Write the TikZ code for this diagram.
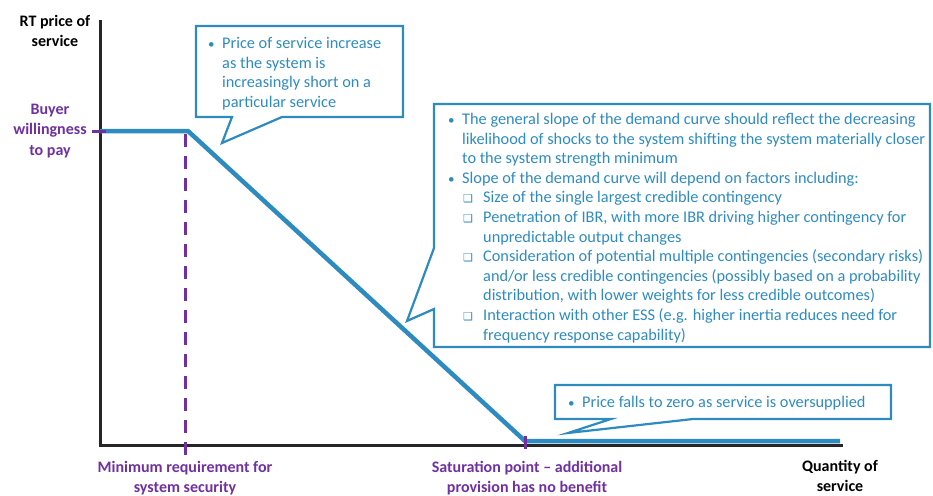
\documentclass[tikz,border=0pt]{standalone}
\usepackage{fontspec}
\setmainfont{Carlito}
\newfontfamily\djv{DejaVu Sans}
\definecolor{cblue}{RGB}{46,139,192}
\definecolor{cpurp}{RGB}{112,48,160}
\newcommand{\sqb}{\makebox[20pt][l]{\raisebox{0.3pt}{\djv\fontsize{11}{11}\selectfont ❑}}}
\newcommand{\bul}{\makebox[14pt][l]{\fontsize{13}{13}\selectfont •}}
\begin{document}
\begin{tikzpicture}[x=1pt,y=-1pt,
  axis/.style={line width=3pt,black!85},
  curve/.style={line width=4.5pt,cblue},
  pmark/.style={line width=3pt,cpurp},
  callout/.style={line width=2.2pt,cblue,line join=miter},
  ctext/.style={cblue,font=\fontsize{16.3}{19.6}\selectfont,align=left,inner sep=0pt,anchor=north west},
  albl/.style={font=\bfseries\fontsize{16}{20.5}\selectfont,align=center,inner sep=0pt},
]
\useasboundingbox (0,0) rectangle (933,495);

% axes
\coordinate (ytop) at (100,20);
\coordinate (O) at (100,445);
\coordinate (xend) at (843,445);
\draw[axis] (ytop) -- (O) -- (xend);

% demand curve
\coordinate (p0) at (100,131);
\coordinate (p1) at (188,131);
\coordinate (p2) at (525,441);
\coordinate (p3) at (840,441);
\draw[curve,line join=miter] (p0) -- (p1) -- (p2) -- (p3);

% purple marks
\coordinate (t0) at (92,131);
\coordinate (t1) at (106,131);
\draw[pmark] (t0) -- (t1);
\coordinate (d0) at (185,134);
\coordinate (d1) at (185,458);
\draw[pmark,dash pattern=on 13pt off 9pt] (d0) -- (d1);
\coordinate (s0) at (525,436);
\coordinate (s1) at (525,449);
\draw[pmark] (s0) -- (s1);

% callout 1
\draw[callout] (196,26) -- (403,26) -- (403,117) -- (282,117) -- (222,143) -- (232,117) -- (196,117) -- cycle;
\node[ctext] (c1) at (208,37) {\bul Price of service increase\\
\hspace*{14pt}as the system is\\
\hspace*{14pt}increasingly short on a\\
\hspace*{14pt}particular service};

% callout 2
\draw[callout] (434,104) -- (930,104) -- (930,347) -- (434,347) -- (434,309) -- (407,321) -- (434,248) -- cycle;
\node[ctext] (c2) at (448,113) {\bul The general slope of the demand curve should reflect the decreasing\\
\hspace*{14pt}likelihood of shocks to the system shifting the system materially closer\\
\hspace*{14pt}to the system strength minimum\\
\bul Slope of the demand curve will depend on factors including:\\
\hspace*{15pt}\sqb Size of the single largest credible contingency\\
\hspace*{15pt}\sqb Penetration of IBR, with more IBR driving higher contingency for\\
\hspace*{35pt}unpredictable output changes\\
\hspace*{15pt}\sqb Consideration of potential multiple contingencies (secondary risks)\\
\hspace*{35pt}and/or less credible contingencies (possibly based on a probability\\
\hspace*{35pt}distribution, with lower weights for less credible outcomes)\\
\hspace*{15pt}\sqb Interaction with other ESS (e.g. higher inertia reduces need for\\
\hspace*{35pt}frequency response capability)};

% callout 3
\draw[callout] (555,385) -- (891,385) -- (891,419) -- (693,419) -- (568,433) -- (611,419) -- (555,419) -- cycle;
\node[ctext] (c3) at (568,396) {\bul Price falls to zero as service is oversupplied};

% axis labels
\node[albl] (ylab) at (55,31) {RT price of\\service};
\node[albl,text=cpurp] (bwp) at (50,131) {Buyer\\willingness\\to pay};
\node[albl,text=cpurp] (minreq) at (185,478) {Minimum requirement for\\system security};
\node[albl,text=cpurp] (sat) at (527,478) {Saturation point -- additional\\provision has no benefit};
\node[albl] (xlab) at (840,476) {Quantity of\\service};
\end{tikzpicture}
\end{document}
